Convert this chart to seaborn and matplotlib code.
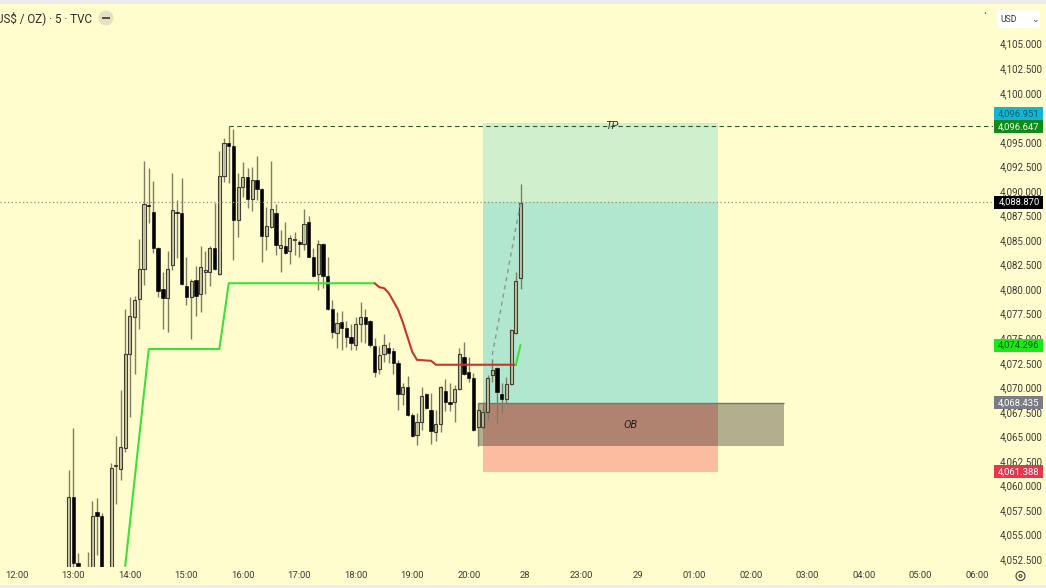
import matplotlib
matplotlib.use("Agg")
import matplotlib.pyplot as plt
import seaborn as sns
import pandas as pd
from matplotlib.patches import Rectangle, Circle, FancyBboxPatch
from matplotlib.transforms import IdentityTransform
from matplotlib.colors import to_rgba

# ---------- data ----------
bar_start = 11  # 12:55 is the 11th 5-minute bar after 12:00
opens = [4048.3,4058.8,4052.1,4050.9,4048.3,4050.9,4057.3,4056.9,4050.9,4050.9,4062.0,4061.7,4063.8,4073.4,4077.2,4079.0,
         4082.1,4088.6,4087.9,4084.2,4080.0,4079.1,4082.5,4087.9,4087.8,4080.3,4079.2,4080.9,4079.5,4081.7,4081.7,4084.2,
         4081.5,4091.5,4094.9,4094.6,4087.0,4090.4,4091.4,4089.2,4091.1,4090.2,4085.4,4086.3,4087.8,4084.2,4084.4,4083.9,
         4085.05,4084.8,4084.6,4086.8,4083.3,4081.5,4084.6,4081.3,4078.0,4075.5,4076.7,4076.0,4075.1,4074.3,4076.5,4077.2,
         4076.8,4074.2,4071.9,4073.4,4074.0,4073.7,4072.5,4069.3,4070.0,4067.2,4065.1,4066.5,4069.3,4067.7,4065.5,4066.3,
         4069.6,4068.5,4068.5,4069.8,4073.1,4071.6,4071.0,4066.0,4066.0,4067.5,4071.3,4072.0,4069.3,4068.8,4070.3,4075.5,4081.1]
highs = [4061.6,4065.9,4053.1,4051.4,4053.2,4058.4,4058.7,4057.2,4051.2,4062.3,4065.0,4069.7,4078.0,4079.2,4079.3,4085.1,
         4093.1,4092.3,4091.0,4084.3,4081.7,4083.9,4091.8,4089.1,4091.3,4083.3,4081.0,4082.4,4084.4,4083.9,4084.4,4088.8,
         4094.1,4095.4,4096.6,4096.3,4091.8,4092.9,4092.3,4092.4,4093.6,4090.3,4088.4,4093.1,4088.7,4086.0,4086.8,4085.5,
         4085.8,4085.0,4088.2,4087.4,4084.2,4085.0,4084.7,4083.3,4078.9,4077.7,4077.8,4076.8,4076.4,4077.2,4078.7,4078.0,
         4076.9,4075.0,4074.2,4075.4,4074.6,4074.0,4072.8,4070.4,4071.2,4067.4,4067.4,4070.0,4069.4,4069.4,4067.7,4070.1,
         4070.8,4070.4,4070.2,4074.0,4074.6,4073.1,4071.5,4068.4,4068.5,4071.3,4072.9,4072.1,4070.4,4071.1,4075.9,4081.7,4090.7]
lows = [4046.3,4051.4,4049.4,4047.3,4047.3,4049.9,4052.9,4047.3,4047.8,4050.4,4058.1,4060.6,4063.4,4067.0,4071.4,4075.9,
        4080.4,4086.7,4083.7,4079.2,4075.9,4075.6,4082.0,4083.2,4080.4,4078.4,4074.9,4077.3,4077.7,4079.5,4080.3,4081.9,
        4081.4,4090.9,4090.8,4083.0,4085.3,4089.4,4088.3,4088.0,4089.1,4082.8,4084.0,4086.2,4083.5,4081.7,4083.6,4082.6,
        4083.5,4083.3,4084.0,4083.3,4081.2,4079.9,4080.1,4077.9,4075.0,4074.0,4073.8,4074.1,4073.8,4073.8,4074.6,4074.5,
        4074.1,4071.1,4071.4,4072.6,4072.5,4071.4,4067.7,4068.2,4067.1,4064.9,4064.1,4065.7,4067.8,4064.2,4064.5,4065.4,
        4067.6,4067.6,4066.5,4069.7,4071.3,4070.5,4065.6,4064.0,4065.8,4066.7,4070.5,4066.4,4067.4,4068.4,4070.2,4075.4,4080.0]
closes = [4058.8,4052.1,4051.8,4048.3,4050.9,4056.9,4056.9,4048.3,4048.9,4061.8,4062.1,4063.9,4073.4,4077.3,4078.9,4082.1,
          4088.7,4088.5,4084.2,4079.8,4079.1,4082.1,4088.1,4087.8,4080.5,4079.2,4080.8,4079.3,4082.3,4081.9,4084.2,4082.1,
          4091.5,4094.9,4094.6,4087.0,4090.4,4091.4,4089.2,4091.1,4090.2,4085.4,4086.4,4088.2,4084.5,4084.5,4083.7,4085.2,
          4085.1,4084.6,4086.6,4083.3,4081.3,4084.6,4081.3,4078.0,4075.6,4076.6,4076.0,4075.1,4074.5,4076.5,4077.2,4076.5,
          4074.3,4071.6,4073.3,4074.3,4073.5,4072.5,4069.3,4070.0,4067.2,4065.0,4066.5,4069.1,4067.9,4065.6,4066.3,4070.0,
          4068.5,4068.3,4069.8,4073.4,4071.4,4070.9,4065.7,4067.7,4067.5,4070.9,4071.8,4069.5,4068.8,4070.3,4075.8,4080.8,4088.8]

green_bars = [23, 28, 43, 45, 76]
green_vals = [4051.8, 4073.9, 4073.9, 4080.6, 4080.6]
red_bars = [76, 77, 78, 79, 81, 82, 84, 85, 88, 89, 106]
red_vals = [4080.6, 4080.2, 4080.1, 4079.6, 4077.9, 4076.6, 4073.6, 4072.8, 4072.7, 4072.3, 4072.3]
tail_bars = [106, 107]
tail_vals = [4072.3, 4074.3]
trend_bars = [101, 107]
trend_vals = [4073.3, 4088.8]

tp_price = 4096.951
tp_line = 4096.647
last_price = 4088.870
signal_price = 4074.296
entry_price = 4068.435
stop_price = 4061.388
ob_top, ob_bottom = 4068.4, 4064.0
pos_bars = (99, 149)
ob_bars = (98, 163)

x_tick_bars = list(range(0, 205, 12))
x_tick_labels = ["12:00","13:00","14:00","15:00","16:00","17:00","18:00","19:00","20:00","28","23:00","29",
                 "01:00","02:00","03:00","04:00","05:00","06:00"]
y_ticks = [4052.5 + 2.5 * k for k in range(22)]
price_tags = [(4096.951, "#10b6d4", "#0d5f70", 9), (4096.647, "#118a1c", "#e8ffe8", -1),
              (4088.870, "#000000", "#ffffff", 0), (4074.296, "#18ea18", "#0c5a10", 0),
              (4068.435, "#7c7c84", "#ffffff", 0), (4061.388, "#e6364e", "#ffffff", 0)]

# ---------- style ----------
BG = "#FFFCCD"
sns.set_theme(style="white")
plt.rcParams["font.family"] = ["Roboto", "DejaVu Sans"]

W, H = 1046, 588
fig = plt.figure(figsize=(W / 100, H / 100), dpi=100, facecolor=BG)
ax = fig.add_axes([0, (H - 567) / H, 993 / W, 562 / H], facecolor=BG)
ax.set_xlim(-3.61, 207.4)
ax.set_ylim(4051.7, 4108.94)
for s in ax.spines.values():
    s.set_visible(False)

df = pd.DataFrame({"bar": range(bar_start, bar_start + len(opens)), "o": opens, "h": highs, "l": lows, "c": closes})
up = df[df.c >= df.o]
dn = df[df.c < df.o]

# position zones under the candles
def zone(x0, x1, y0, y1, color, alpha, z):
    ax.add_patch(Rectangle((x0, y0), x1 - x0, y1 - y0, facecolor=color, edgecolor="none", alpha=alpha, zorder=z))

zone(*pos_bars, last_price, tp_price, (188/255, 236/255, 205/255), 0.7, 1)
zone(*pos_bars, entry_price, last_price, (144/255, 222/255, 209/255), 0.7, 1)
zone(*pos_bars, stop_price, entry_price, (252/255, 162/255, 141/255), 0.7, 1)
zone(*ob_bars, ob_bottom, ob_top, "#000000", 0.3, 1.5)
ax.plot(ob_bars, [ob_top, ob_top], color="#6f7a6a", lw=1.0, zorder=1.6, solid_capstyle="butt")

ax.vlines(df.bar, df.l, df.h, color="#807e60", lw=1.0, zorder=2)
ax.bar(up.bar, up.c - up.o, bottom=up.o, width=0.66, facecolor=to_rgba("#cfcba8", 0.75),
       edgecolor="#3f3f34", lw=0.8, zorder=3)
ax.bar(dn.bar, dn.o - dn.c, bottom=dn.c, width=0.72, facecolor="#000000", edgecolor="#000000", lw=0.4, zorder=3)

sns.lineplot(x=green_bars, y=green_vals, ax=ax, color="#3fe03a", lw=1.5, estimator=None, zorder=6)
sns.lineplot(x=red_bars, y=red_vals, ax=ax, color="#c8362a", lw=1.5, estimator=None, zorder=6)
sns.lineplot(x=tail_bars, y=tail_vals, ax=ax, color="#3fe03a", lw=1.5, estimator=None, zorder=6)
ax.plot(trend_bars, trend_vals, color="#8c9a8c", lw=1.0, ls=(0, (3, 3)), zorder=6)

ax.plot([45, 207.4], [tp_line, tp_line], color="#2d5a2d", lw=0.8, ls=(0, (4, 3)), zorder=6)
ax.axhline(last_price, color="#8d8d80", lw=0.9, ls=(0, (1, 2)), zorder=6)

ax.text(126.3, 4096.65, "TP", style="italic", fontsize=8, color="#333333", ha="center", va="center", zorder=7)
ax.text(130.3, 4066.2, "OB", style="italic", fontsize=8, color="#222222", ha="center", va="center", zorder=7)

# axes
ax.set_xticks(x_tick_bars)
ax.set_xticklabels(x_tick_labels, fontsize=6.8, color="#3c3c34")
ax.tick_params(axis="x", length=0, pad=3)
ax.yaxis.tick_right()
ax.set_yticks(y_ticks)
ax.set_yticklabels([f"{v:,.3f}" for v in y_ticks], fontsize=7, color="#3c3c34")
ax.tick_params(axis="y", length=0, pad=5)

# price tags on the right scale, placed from their price
ident = IdentityTransform()
for price, bg, fg, dy in price_tags:
    yp = ax.transData.transform((0, price))[1] + dy
    fig.add_artist(Rectangle((994, yp - 6.5), 49, 13, transform=ident, facecolor=bg, edgecolor="none", zorder=8))
    fig.add_artist(plt.Text(1019, yp, f"{price:,.3f}", transform=ident, fontsize=6.8, color=fg,
                            ha="center", va="center", zorder=9))

# chrome
px = lambda x: x / W
py = lambda y: 1 - y / H
fig.add_artist(Rectangle((0, py(4)), 1, 4 / H, transform=fig.transFigure, facecolor="#ececec", edgecolor="none"))
fig.add_artist(Rectangle((0, 0), 1, 3 / H, transform=fig.transFigure, facecolor="#ececec", edgecolor="none"))
fig.text(px(-4), py(18), "US$ / OZ) · 5 · TVC", fontsize=8.4, color="#2e2e28", va="center", ha="left")

to_px = fig.dpi_scale_trans
fig.add_artist(Circle((106 / 100, (H - 18) / 100), 7.5 / 100, transform=to_px, facecolor="#e4e1c2", edgecolor="none"))
fig.add_artist(Rectangle((102 / 100, (H - 18.8) / 100), 8 / 100, 1.8 / 100, transform=to_px, facecolor="#555550", edgecolor="none"))
fig.add_artist(FancyBboxPatch((997 / 100, (H - 28) / 100), 43 / 100, 18 / 100, transform=to_px,
                              boxstyle="round,pad=0,rounding_size=0.02", facecolor="#ffffff", edgecolor="none"))
fig.text(px(1000), py(19), "USD", fontsize=6.2, color="#333333", va="center")
fig.text(px(1035), py(19), "⌄", fontsize=6.5, color="#555555", va="center", ha="center", family=["DejaVu Sans"])
fig.add_artist(Circle((985.5 / 100, (H - 13) / 100), 0.7 / 100, transform=to_px, facecolor="#333333", edgecolor="none"))
fig.add_artist(Circle((1020.5 / 100, (H - 576) / 100), 4.5 / 100, transform=to_px, facecolor="none", edgecolor="#444444", lw=0.8))
fig.add_artist(Circle((1020.5 / 100, (H - 576) / 100), 1.4 / 100, transform=to_px, facecolor="none", edgecolor="#444444", lw=0.8))

fig.savefig("out.png", dpi=100, facecolor=BG)
